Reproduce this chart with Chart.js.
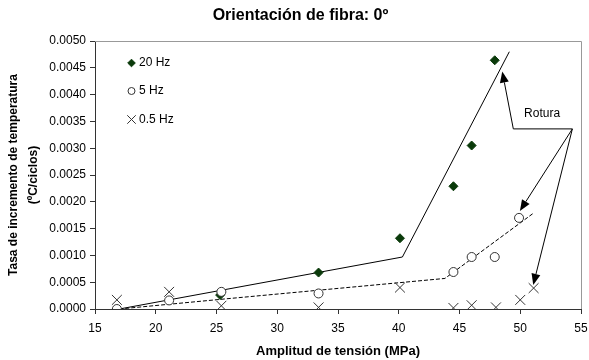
<!DOCTYPE html>
<html>
<head>
<meta charset="utf-8">
<script src="https://cdn.jsdelivr.net/npm/chart.js@4.4.1/dist/chart.umd.min.js"></script>
<style>
  html, body { margin: 0; padding: 0; background: #fff; }
  #wrap { width: 589px; height: 360px; }
</style>
</head>
<body>
<div id="wrap"><canvas id="chart" width="589" height="360"></canvas></div>
<script>
// ticks
const xTicks = [15, 20, 25, 30, 35, 40, 45, 50, 55];
const yTicks = [0, 0.0005, 0.001, 0.0015, 0.002, 0.0025, 0.003, 0.0035, 0.004, 0.0045, 0.005];

// 20 Hz
const amp20 = [25.3, 33.4, 40.1, 44.5, 46.0, 47.9];
const rate20 = [0.00026, 0.00068, 0.00132, 0.00229, 0.00305, 0.00464];

// 5 Hz
const amp5 = [16.8, 21.1, 25.4, 33.4, 44.5, 46.0, 47.9, 49.9];
const rate5 = [0.0000, 0.00016, 0.00032, 0.00029, 0.00069, 0.00097, 0.00097, 0.00170];

// 0.5 Hz
const amp05 = [16.8, 21.1, 25.4, 33.4, 40.1, 44.5, 46.0, 48.0, 50.0, 51.1];
const rate05 = [0.00017, 0.00032, 0.00006, 0.00003, 0.00040, 0.00002, 0.00007, 0.00003, 0.00017, 0.00039];

// trend lines drawn on the plot
const trend20X = [17.0, 40.3, 49.1];
const trend20Y = [0.0, 0.00097, 0.0048];
const trend5X = [17.0, 25.8, 43.8, 51.1];
const trend5Y = [0.0, 0.00019, 0.00057, 0.00179];

// "Rotura" callout, in data units
const roturaText = 'Rotura';
const roturaAt = [51.8, 0.00365];
const elbowL = [49.43, 0.00336];
const elbowR = [54.29, 0.00336];
const arrowTips = [[48.52, 0.00443], [49.97, 0.00183], [51.07, 0.00045]];

const pts = (xs, ys) => xs.map((x, i) => ({ x: x, y: ys[i] }));
const FONT = "'Liberation Sans', Arial, sans-serif";

const frame = {
    id: 'frame',
    beforeDatasetsDraw(chart) {
        const { ctx, chartArea: a } = chart;
        ctx.save();
        ctx.strokeStyle = '#999';
        ctx.lineWidth = 1;
        ctx.beginPath();
        ctx.moveTo(a.left, a.top + 0.5);
        ctx.lineTo(a.right + 0.5, a.top + 0.5);
        ctx.lineTo(a.right + 0.5, a.bottom);
        ctx.stroke();
        ctx.restore();
    }
};

function arrow(ctx, x1, y1, x2, y2) {
    const ang = Math.atan2(y2 - y1, x2 - x1);
    const len = 11, hw = 4.5;
    const bx = x2 - Math.cos(ang) * len, by = y2 - Math.sin(ang) * len;
    ctx.beginPath();
    ctx.moveTo(x1, y1);
    ctx.lineTo(bx, by);
    ctx.stroke();
    ctx.beginPath();
    ctx.moveTo(x2, y2);
    ctx.lineTo(bx + Math.sin(ang) * hw, by - Math.cos(ang) * hw);
    ctx.lineTo(bx - Math.sin(ang) * hw, by + Math.cos(ang) * hw);
    ctx.closePath();
    ctx.fill();
}

const callout = {
    id: 'callout',
    afterDatasetsDraw(chart) {
        const { ctx, scales: { x, y } } = chart;
        const px = p => [x.getPixelForValue(p[0]), y.getPixelForValue(p[1])];
        const l = px(elbowL), r = px(elbowR);
        ctx.save();
        ctx.strokeStyle = '#000';
        ctx.fillStyle = '#000';
        ctx.lineWidth = 1;
        ctx.beginPath();
        ctx.moveTo(l[0], l[1]);
        ctx.lineTo(r[0], r[1]);
        ctx.stroke();
        const t0 = px(arrowTips[0]);
        arrow(ctx, l[0], l[1], t0[0], t0[1]);
        arrowTips.slice(1).forEach(t => {
            const p = px(t);
            arrow(ctx, r[0], r[1], p[0], p[1]);
        });
        const tp = px(roturaAt);
        ctx.font = '12px ' + FONT;
        ctx.textAlign = 'center';
        ctx.textBaseline = 'middle';
        ctx.fillText(roturaText, tp[0], tp[1]);
        ctx.restore();
    }
};

// legend inside the plot, top left
const innerLegend = {
    id: 'innerLegend',
    afterDraw(chart) {
        const { ctx, chartArea: a } = chart;
        const rows = [22, 50, 78.5];
        ctx.save();
        ctx.font = '12px ' + FONT;
        ctx.textAlign = 'left';
        ctx.textBaseline = 'middle';
        chart.data.datasets
            .filter(d => d.legendRow !== undefined)
            .sort((p, q) => p.legendRow - q.legendRow)
            .forEach((d, i) => {
                const cy = a.top + rows[i];
                const cx = a.left + 36.5;
                ctx.fillStyle = d.backgroundColor;
                ctx.strokeStyle = d.borderColor;
                ctx.lineWidth = 1;
                Chart.helpers.drawPoint(ctx, {
                    pointStyle: d.pointStyle, radius: d.legendRadius, rotation: 0, borderWidth: 1
                }, cx, cy);
                ctx.fillStyle = '#000';
                ctx.fillText(d.label, a.left + 44, cy);
            });
        ctx.restore();
    }
};

new Chart(document.getElementById('chart'), {
    type: 'scatter',
    data: {
        datasets: [
            {
                label: '5 Hz', legendRow: 1, data: pts(amp5, rate5),
                pointStyle: 'circle', pointRadius: 4.5, legendRadius: 3.5,
                backgroundColor: '#fff', borderColor: '#333', borderWidth: 1
            },
            {
                label: '20 Hz', legendRow: 0, data: pts(amp20, rate20),
                pointStyle: 'rectRot', pointRadius: 4.5, legendRadius: 3.8,
                backgroundColor: '#0a3a0a', borderColor: '#0a3a0a', borderWidth: 1
            },
            {
                label: '0.5 Hz', legendRow: 2, data: pts(amp05, rate05),
                pointStyle: 'crossRot', pointRadius: 7, legendRadius: 6,
                backgroundColor: '#333', borderColor: '#333', borderWidth: 1
            },
            {
                label: 'trend 20 Hz', data: pts(trend20X, trend20Y),
                showLine: true, pointRadius: 0, borderColor: '#000', borderWidth: 1
            },
            {
                label: 'trend 5 Hz', data: pts(trend5X, trend5Y),
                showLine: true, pointRadius: 0, borderColor: '#000', borderWidth: 1,
                borderDash: [4, 2]
            }
        ]
    },
    options: {
        responsive: false,
        animation: false,
        devicePixelRatio: 1,
        layout: { padding: { left: 12, right: 0, top: 0, bottom: 0 } },
        plugins: {
            legend: { display: false },
            tooltip: { enabled: false },
            title: {
                display: true,
                text: 'Orientación de fibra: 0º',
                color: '#000',
                font: { family: FONT, size: 16, weight: 'bold', lineHeight: 1.2 },
                padding: { top: 6.4, bottom: 15.4 }
            }
        },
        scales: {
            x: {
                type: 'linear',
                min: xTicks[0], max: xTicks[xTicks.length - 1],
                afterBuildTicks: s => { s.ticks = xTicks.map(v => ({ value: v })); },
                afterFit: s => { s.height = 51; s.paddingLeft = 0; s.paddingRight = 4; },
                ticks: { color: '#000', padding: 7, font: { family: FONT, size: 12 } },
                grid: { drawOnChartArea: false, drawTicks: true, tickLength: 5, color: '#333' },
                border: { display: true, color: '#333' },
                title: {
                    display: true, text: 'Amplitud de tensión (MPa)', color: '#000',
                    font: { family: FONT, size: 13, weight: 'bold', lineHeight: 1.2 },
                    padding: { top: 0, bottom: 0.5 }
                }
            },
            y: {
                type: 'linear',
                min: yTicks[0], max: yTicks[yTicks.length - 1],
                afterBuildTicks: s => { s.ticks = yTicks.map(v => ({ value: v })); },
                afterFit: s => { s.width = 83; },
                ticks: {
                    color: '#000', padding: 4, font: { family: FONT, size: 12 },
                    callback: v => Number(v).toFixed(4)
                },
                grid: { drawOnChartArea: false, drawTicks: true, tickLength: 5, color: '#333' },
                border: { display: true, color: '#333' },
                title: {
                    display: true,
                    text: ['Tasa de incremento de temperatura', '(ºC/ciclos)'],
                    color: '#000',
                    font: { family: FONT, size: 12, weight: 'bold', lineHeight: 1.6 },
                    padding: { top: -7.6, bottom: 0 }
                }
            }
        }
    },
    plugins: [frame, callout, innerLegend]
});
</script>
</body>
</html>
